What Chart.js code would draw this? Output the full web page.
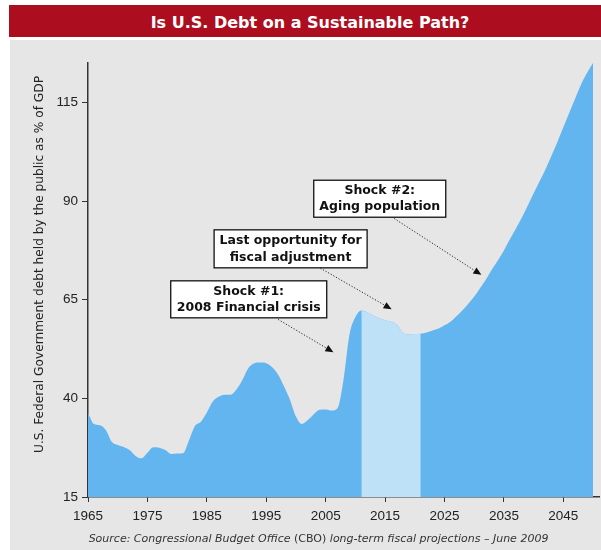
<!DOCTYPE html>
<html>
<head>
<meta charset="utf-8">
<script src="https://cdn.jsdelivr.net/npm/chart.js@4.4.0/dist/chart.umd.min.js"></script>
<style>
body { margin:0; background:#fff; width:601px; height:550px; position:relative; overflow:hidden; font-family:"Liberation Sans", Arial, sans-serif; }
#banner { position:absolute; left:9px; top:5px; width:582px; padding-left:10px; height:32px; background:#ad0e1f; color:#fff; font-family:"DejaVu Sans", sans-serif; font-weight:bold; font-size:16px; text-align:center; line-height:35px; }
#panel { position:absolute; left:10px; top:40px; width:591px; height:510px; background:#e6e6e6; }
#graph { position:absolute; left:0; top:0; }
#source { position:absolute; left:13px; width:591px; top:492px; text-align:center; font-family:"DejaVu Sans", sans-serif; font-size:11px; color:#333; font-style:italic; white-space:nowrap; }
#source span { font-style:normal; }
</style>
</head>
<body>
<div id="banner">Is U.S. Debt on a Sustainable Path?</div>
<div id="panel">
  <canvas id="graph" width="591" height="510"></canvas>
  <div id="source">Source: Congressional Budget Office <span>(CBO)</span> long-term fiscal projections – June 2009</div>
</div>
<script>
// Données : dette publique (% du PIB), historique + projection CBO
const years = [
    1965, 1966, 1967, 1968, 1969, 1970, 1971, 1972, 1973, 1974,
    1975, 1976, 1977, 1978, 1979, 1980, 1981, 1982, 1983, 1984,
    1985, 1986, 1987, 1988, 1989, 1990, 1991, 1992, 1993, 1994,
    1995, 1996, 1997, 1998, 1999, 2000, 2001, 2002, 2003, 2004,
    2005, 2006, 2007, 2008, 2009, 2010, 2011, 2012, 2013, 2014,
    2015, 2016, 2017, 2018, 2019, 2020, 2021, 2022, 2023, 2024,
    2025, 2026, 2027, 2028, 2029, 2030, 2031, 2032, 2033, 2034,
    2035, 2036, 2037, 2038, 2039, 2040, 2041, 2042, 2043, 2044,
    2045, 2046, 2047, 2048, 2049, 2050
];
const debt = [
    36.3, 33.5, 33.2, 32.0, 29.0, 28.2, 27.7, 26.9, 25.4, 24.8,
    26.2, 27.6, 27.5, 26.9, 25.9, 26.0, 26.1, 29.4, 33.0, 34.1,
    36.4, 39.2, 40.4, 40.9, 40.9, 42.3, 44.7, 47.7, 48.9, 49.1,
    48.9, 47.9, 46.0, 43.0, 39.6, 35.4, 33.5, 34.5, 36.0, 37.1,
    37.2, 36.9, 37.5, 44.7, 56.1, 60.6, 62.3, 61.8, 61.0, 60.4,
    59.8, 59.4, 58.7, 56.6, 56.2, 56.3, 56.4, 56.7, 57.2, 57.7,
    58.5, 59.4, 60.8, 62.3, 64.0, 65.8, 68.0, 70.2, 72.7, 75.0,
    77.5, 80.3, 83.0, 85.8, 88.8, 92.0, 95.0, 98.1, 101.5, 105.0,
    108.7, 112.4, 116.0, 119.6, 122.5, 125.0
];
// fenêtre "last opportunity" (zone claire)
const adjustStart = 2011;
const adjustEnd = 2021;

const xTicks = [1965, 1975, 1985, 1995, 2005, 2015, 2025, 2035, 2045];
const yTicks = [15, 40, 65, 90, 115];

const yTitle = 'U.S. Federal Government debt held by the public as % of GDP';

// annotations (boîtes + flèches), en coordonnées année / valeur
const notes = [
    { lines: ['Shock #1:', '2008 Financial crisis'], at: [1992.05, 65.1], w: 156, h: 37, from: [1997.0, 60.0], to: [2006.3, 51.7] },
    { lines: ['Last opportunity for', 'fiscal adjustment'], at: [1999.1, 77.9], w: 153, h: 38, from: [2004.1, 73.0], to: [2016.1, 62.6] },
    { lines: ['Shock #2:', 'Aging population'], at: [2014.1, 90.6], w: 132, h: 37, from: [2016.1, 86.0], to: [2031.2, 71.3] }
];

const FONT = '"Liberation Sans", Arial, sans-serif';
const FONT2 = '"DejaVu Sans", sans-serif';

const allPts = years.map((y, i) => ({ x: y, y: debt[i] }));
const lightPts = allPts.filter(p => p.x >= adjustStart && p.x <= adjustEnd);

// plugin maison pour le titre de l'axe y + annotations
const notesPlugin = {
    id: 'notes',
    afterDraw(chart) {
        const ctx = chart.ctx;
        const sx = chart.scales.x, sy = chart.scales.y;

        ctx.save();
        ctx.translate(30, 224.5);
        ctx.rotate(-Math.PI / 2);
        ctx.fillStyle = '#222';
        ctx.font = '12.2px ' + FONT2;
        ctx.textAlign = 'center';
        ctx.textBaseline = 'middle';
        ctx.fillText(yTitle, 0, 0);
        ctx.restore();

        notes.forEach(n => {
            const x1 = sx.getPixelForValue(n.from[0]), y1 = sy.getPixelForValue(n.from[1]);
            const x2 = sx.getPixelForValue(n.to[0]), y2 = sy.getPixelForValue(n.to[1]);
            const ang = Math.atan2(y2 - y1, x2 - x1);
            const hl = 8, hw = 3.5;
            ctx.save();
            ctx.strokeStyle = '#222';
            ctx.lineWidth = 1;
            ctx.setLineDash([1.2, 1.8]);
            ctx.beginPath();
            ctx.moveTo(x1, y1);
            ctx.lineTo(x2 - Math.cos(ang) * hl, y2 - Math.sin(ang) * hl);
            ctx.stroke();
            ctx.setLineDash([]);
            ctx.fillStyle = '#111';
            ctx.beginPath();
            ctx.moveTo(x2, y2);
            ctx.lineTo(x2 - Math.cos(ang) * hl - Math.sin(ang) * hw, y2 - Math.sin(ang) * hl + Math.cos(ang) * hw);
            ctx.lineTo(x2 - Math.cos(ang) * hl + Math.sin(ang) * hw, y2 - Math.sin(ang) * hl - Math.cos(ang) * hw);
            ctx.closePath();
            ctx.fill();

            const cx = sx.getPixelForValue(n.at[0]), cy = sy.getPixelForValue(n.at[1]);
            ctx.fillStyle = '#fff';
            ctx.fillRect(cx - n.w / 2, cy - n.h / 2, n.w, n.h);
            ctx.strokeStyle = '#111';
            ctx.lineWidth = 1.3;
            ctx.strokeRect(cx - n.w / 2, cy - n.h / 2, n.w, n.h);
            ctx.fillStyle = '#111';
            ctx.font = 'bold 12.5px ' + FONT2;
            ctx.textAlign = 'center';
            ctx.textBaseline = 'middle';
            ctx.fillText(n.lines[0], cx, cy - 8);
            ctx.fillText(n.lines[1], cx, cy + 8.5);
            ctx.restore();
        });
    }
};

const ctx = document.getElementById('graph').getContext('2d');
const graph = new Chart(ctx, {
    type: 'line',
    data: {
        datasets: [
            {
                label: 'fiscal adjustment',
                data: lightPts,
                backgroundColor: '#bfe1f7',
                borderWidth: 0,
                pointRadius: 0,
                fill: 'start',
                cubicInterpolationMode: 'monotone',
                order: 0
            },
            {
                label: 'debt',
                data: allPts,
                backgroundColor: '#62b5ee',
                borderWidth: 0,
                pointRadius: 0,
                fill: 'start',
                cubicInterpolationMode: 'monotone',
                order: 1
            }
        ]
    },
    options: {
        responsive: false,
        animation: false,
        events: [],
        layout: { padding: { left: 0, top: 23, right: 2, bottom: 23 } },
        plugins: { legend: { display: false }, tooltip: { enabled: false } },
        scales: {
            x: {
                type: 'linear',
                min: 1965,
                max: 2051,
                afterBuildTicks: s => { s.ticks = xTicks.map(v => ({ value: v })); },
                afterFit: s => { s.height = 30; },
                grid: { drawOnChartArea: false, tickLength: 5, tickColor: '#333' },
                border: { color: '#333', width: 1.5 },
                ticks: { color: '#222', font: { family: FONT, size: 13.5 }, padding: 6, maxRotation: 0, autoSkip: false, callback: v => String(v) }
            },
            y: {
                type: 'linear',
                min: 15,
                max: 125,
                afterBuildTicks: s => { s.ticks = yTicks.map(v => ({ value: v })); },
                afterFit: s => { s.width = 78; },
                grid: { drawOnChartArea: false, tickLength: 6, tickColor: '#333' },
                border: { color: '#333', width: 1.5 },
                ticks: { color: '#222', font: { family: FONT, size: 13.5 }, padding: 4 }
            }
        }
    },
    plugins: [notesPlugin]
});
</script>
</body>
</html>
